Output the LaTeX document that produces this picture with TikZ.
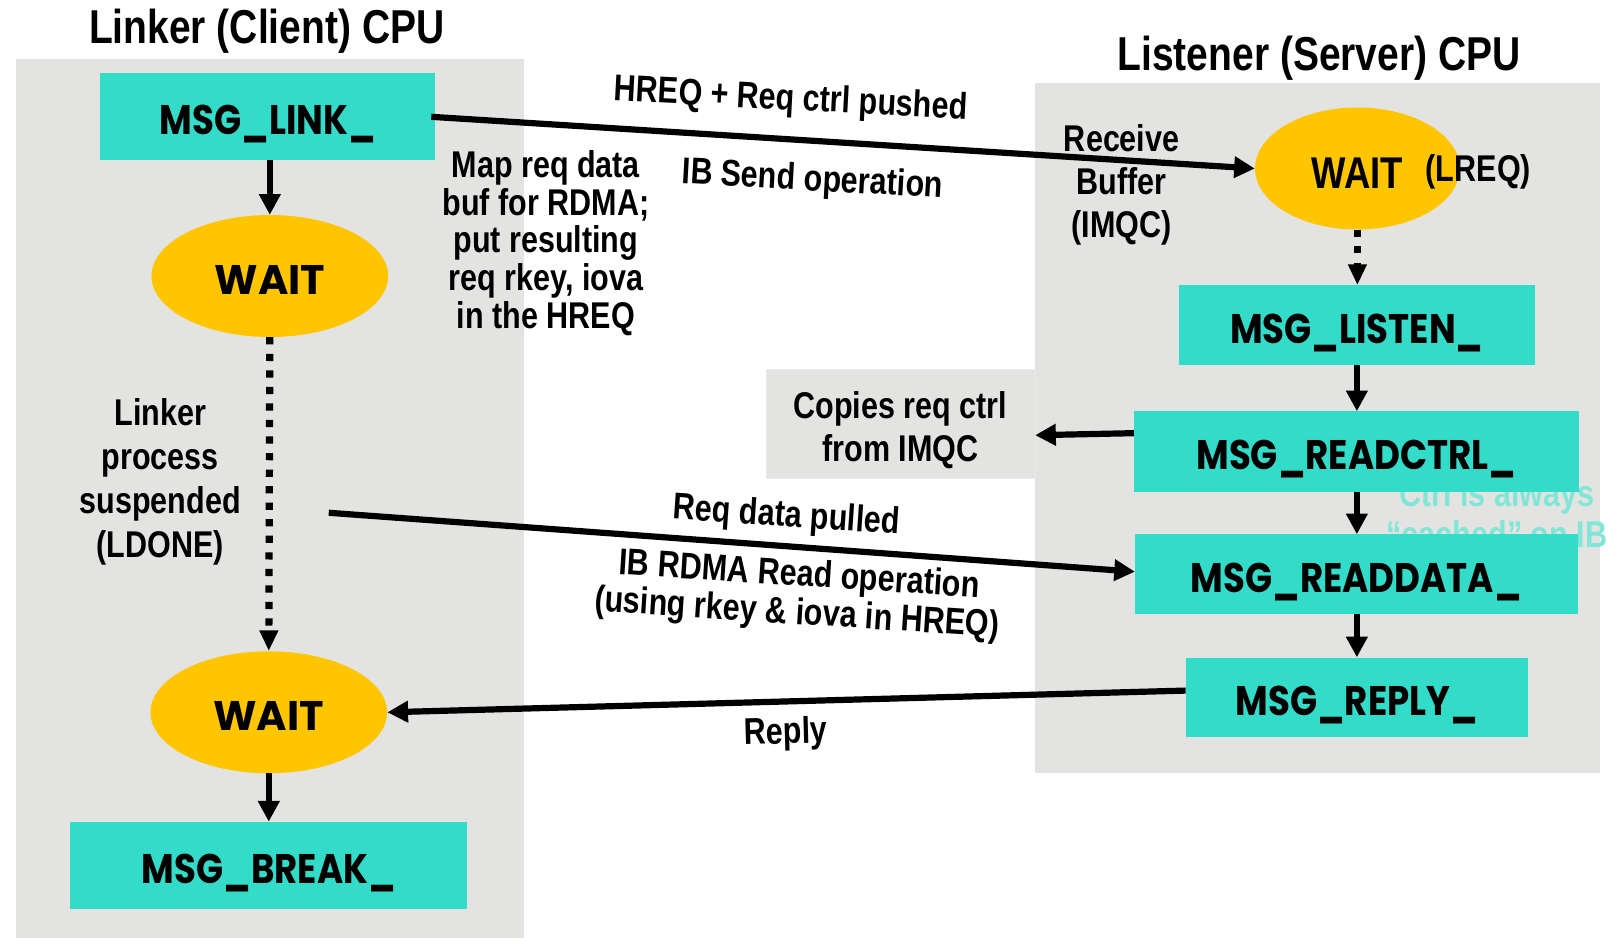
\documentclass[tikz,border=0pt]{standalone}
\usepackage{fontspec}
\setmainfont{Liberation Sans}
\newfontfamily\lblfont{Liberation Sans}[FakeStretch=0.82]
\newfontfamily\boxfont{Poppins}[FakeStretch=0.86]
\newfontfamily\waitfont{Poppins}
\usetikzlibrary{arrows.meta,shapes.geometric}
\definecolor{panelgray}{HTML}{E3E3E2}
\definecolor{msgteal}{HTML}{33DBC9}
\definecolor{waitgold}{HTML}{FFC600}
\definecolor{ghostteal}{HTML}{82E6D7}
\begin{document}
\begin{tikzpicture}[x=1pt,y=-1pt,
  panel/.style={fill=panelgray,draw=none},
  msgbox/.style={rectangle,fill=msgteal,inner sep=0pt,text height=35pt,text depth=0pt,
    font=\boxfont\bfseries\fontsize{40}{42}\selectfont},
  waitnode/.style={ellipse,fill=waitgold,inner sep=0pt,text height=36pt,text depth=0pt,
    minimum width=229pt,minimum height=118pt,
    font=\waitfont\bfseries\fontsize{40}{42}\selectfont},
  lbl/.style={font=\lblfont\bfseries\fontsize{36}{42}\selectfont,align=center,inner sep=0pt},
  cputitle/.style={font=\lblfont\bfseries\fontsize{46}{50}\selectfont,inner sep=0pt},
  arr/.style={line width=6pt,-{Triangle[length=20pt,width=20pt]}},
  dotarr/.style={line width=7pt,dash pattern=on 7pt off 9pt,-{Triangle[length=20pt,width=17pt]}},
]
\useasboundingbox (0,0) rectangle (1568,907);

% CPU panels
\fill[panel] (15,57) rectangle (507,907);
\fill[panel] (1001,80) rectangle (1548,748);
\node[cputitle] (ltitle) at (258,30) {Linker (Client) CPU};
\node[cputitle] (stitle) at (1276,56) {Listener (Server) CPU};

% faint note behind the server boxes
\begin{scope}
  \clip (0,0) rectangle (1554,907);
  \node[lbl,text=ghostteal,font=\lblfont\bfseries\fontsize{36}{40}\selectfont]
    (ghost) at (1448,497) {Ctrl is always\\“cached” on IB};
\end{scope}

% copy step beside the server
\node[rectangle,fill=panelgray,draw=black!8,line width=0.6pt,minimum width=260pt,minimum height=106pt]
  (copies) at (871,410) {};
\node[lbl] (copiestxt) at (871,416) {Copies req ctrl\\from IMQC};

% client side
\node[msgbox,minimum width=324pt,minimum height=84pt] (link) at (259,113) {MSG\_LINK\_};
\node[waitnode] (wait1) at (261,267) {WAIT};
\node[waitnode] (wait2) at (260,689) {WAIT};
\node[msgbox,minimum width=384pt,minimum height=84pt] (brk) at (260,837) {MSG\_BREAK\_};

% server side
\node[ellipse,fill=waitgold,inner sep=0pt,minimum width=198pt,minimum height=118pt,
  text height=38pt,text depth=0pt,
  font=\lblfont\bfseries\fontsize{43}{46}\selectfont] (lreq) at (1313,163) {WAIT};
\node[lbl] (lreqtag) at (1430,166) {(LREQ)};
\node[msgbox,minimum width=345pt,minimum height=77pt] (listen) at (1312.5,314.5) {MSG\_LISTEN\_};
\node[msgbox,minimum width=430pt,minimum height=78pt] (readctrl) at (1312,437) {MSG\_READCTRL\_};
\node[msgbox,minimum width=428pt,minimum height=77pt] (readdata) at (1312,555.5) {MSG\_READDATA\_};
\node[msgbox,minimum width=331pt,minimum height=77pt] (reply) at (1312.5,674.5) {MSG\_REPLY\_};

% client flow
\draw[arr] (link.south -| wait1.north) -- (wait1.north);
\draw[dotarr] (wait1.south) -- (wait2.north);
\draw[arr] (wait2.south) -- (brk.north -| wait2.south);

% server flow
\draw[dotarr] (lreq.south) -- (listen.north -| lreq.south);
\draw[arr] (listen.south) -- (readctrl.north -| listen.south);
\draw[arr] (readctrl.south -| listen.south) -- (readdata.north -| listen.south);
\draw[arr] (readdata.south -| listen.south) -- (reply.north -| listen.south);
\draw[arr] ([yshift=18pt]readctrl.west) -- ([yshift=-11pt]copies.east);

% messages between the CPUs
\coordinate (rdstart) at (318,496);
\draw[arr] ([xshift=-4pt]link.east) -- (lreq.west);
\draw[arr] (rdstart) -- ([yshift=2.5pt]readdata.west);
\draw[arr] ([yshift=6.5pt]reply.west) -- (wait2.east);

% labels
\node[lbl,font=\lblfont\bfseries\fontsize{36}{42.7}\selectfont] (linkerlbl) at (155,466)
  {Linker\\process\\suspended\\(LDONE)};
\node[lbl,font=\lblfont\bfseries\fontsize{36}{36.5}\selectfont] (maplbl) at (528,235)
  {Map req data\\buf for RDMA;\\put resulting\\req rkey, iova\\in the HREQ};
\node[lbl,font=\lblfont\bfseries\fontsize{36}{41.5}\selectfont] (recvlbl) at (1085,179)
  {Receive\\Buffer\\(IMQC)};
\node[lbl,rotate=-3] (hreqlbl) at (765,97) {HREQ + Req ctrl pushed};
\node[lbl,rotate=-3.2] (sendlbl) at (786,175) {IB Send operation};
\node[lbl,rotate=-3.9] (pulllbl) at (761,500) {Req data pulled};
\node[lbl,rotate=-3.7,font=\lblfont\bfseries\fontsize{36}{37}\selectfont] (rdmalbl) at (772,576)
  {IB RDMA Read operation\\(using rkey \& iova in HREQ)};
\node[lbl,rotate=1.6] (replylbl) at (760,710) {Reply};
\end{tikzpicture}
\end{document}
